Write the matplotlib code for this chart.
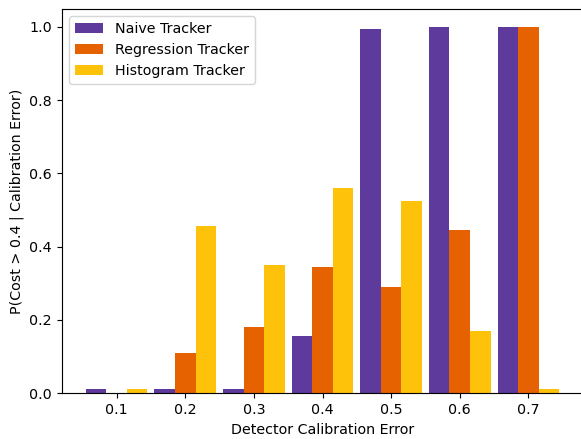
import numpy as np
import matplotlib.pyplot as plt

# Datos
errores = [0.1, 0.2, 0.3, 0.4, 0.5, 0.6, 0.7]
naive = [0.01, 0.01, 0.01, 0.155, 0.995, 1.0, 1.0]
regresion = [0.0, 0.11, 0.18, 0.345, 0.29, 0.445, 1.0]
histograma = [0.01, 0.455, 0.35, 0.56, 0.525, 0.17, 0.01]

x = np.array(errores)
w = 0.03

dpi = 103
fig = plt.figure(figsize=(581/dpi, 439/dpi), dpi=dpi)
ax = fig.add_axes([62/581, 46/439, 521/581, 384.3/439])
ax.bar(x - w, naive, w, color="#5D3A9B", label="Naive Tracker")
ax.bar(x, regresion, w, color="#E66100", label="Regression Tracker")
ax.bar(x + w, histograma, w, color="#FFC20A", label="Histogram Tracker")
ax.set_xticks(x)
ax.set_xlabel("Detector Calibration Error")
ax.set_ylabel("P(Cost > 0.4 | Calibration Error)")
ax.legend(loc="upper left")
# en la figura original el borde derecho queda fuera del recorte
ax.spines["right"].set_visible(False)

fig.savefig("out.png", dpi=dpi)
